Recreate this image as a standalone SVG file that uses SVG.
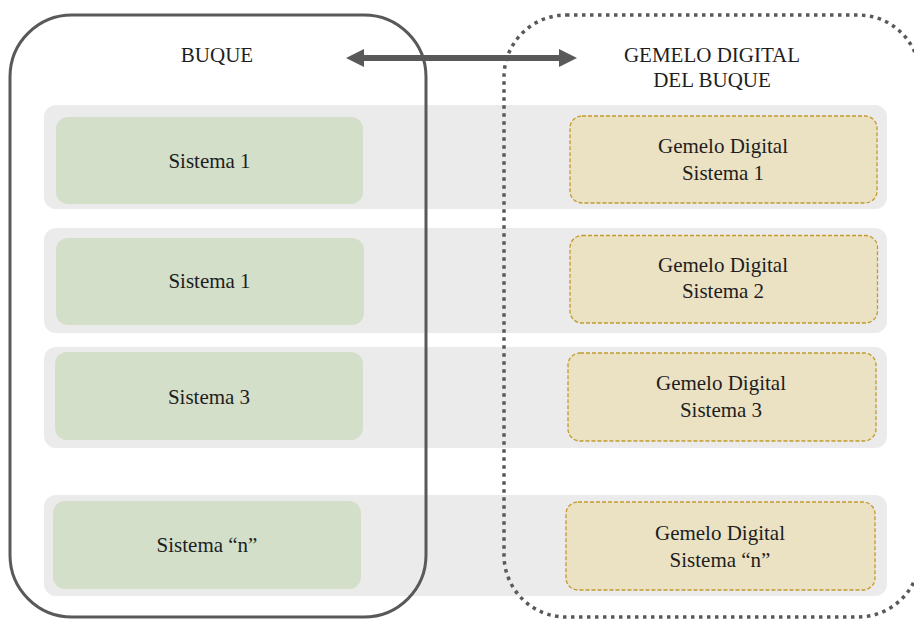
<svg xmlns="http://www.w3.org/2000/svg" width="914" height="619" viewBox="0 0 914 619">
  <defs>
    <style>
      .band { fill: #ebebeb; }
      .sys { fill: #d4dfca; }
      .twin { fill: #ebe2c4; stroke: #c29a2e; stroke-width: 1.3; stroke-dasharray: 4 2; }
      .frame { fill: none; stroke: #595959; stroke-width: 3; }
      .frame-dot { fill: none; stroke: #595959; stroke-width: 3.5; stroke-dasharray: 3.5 4.5; }
      .label { font-size: 21px; fill: #1e1e1e; text-anchor: middle; }
      .link { stroke: #595959; stroke-width: 6; fill: none; }
    </style>
    <marker id="head" viewBox="0 0 18 18" refX="0" refY="9" markerWidth="18" markerHeight="18" markerUnits="userSpaceOnUse" orient="auto-start-reverse">
      <path d="M0,0 L18,9 L0,18 Z" fill="#595959"/>
    </marker>
  </defs>

  <rect width="914" height="619" fill="#ffffff"/>

  <!-- row bands -->
  <g id="rows">
    <rect class="band" x="44" y="105" width="843" height="104" rx="12"/>
    <rect class="band" x="44" y="228" width="843" height="105" rx="12"/>
    <rect class="band" x="44" y="347" width="843" height="101" rx="12"/>
    <rect class="band" x="44" y="495" width="843" height="101" rx="12"/>
  </g>

  <g font-family="'Liberation Serif', 'Tinos', 'DejaVu Serif', serif">
    <!-- physical ship systems -->
    <g id="sistema-1a">
      <rect class="sys" x="56" y="117" width="307" height="87" rx="12"/>
      <text class="label" x="209.5" y="168">Sistema 1</text>
    </g>
    <g id="sistema-1b">
      <rect class="sys" x="56" y="238" width="308" height="87" rx="12"/>
      <text class="label" x="209.5" y="288">Sistema 1</text>
    </g>
    <g id="sistema-3">
      <rect class="sys" x="55" y="352" width="308" height="88" rx="12"/>
      <text class="label" x="209" y="404">Sistema 3</text>
    </g>
    <g id="sistema-n">
      <rect class="sys" x="53" y="501" width="308" height="88" rx="12"/>
      <text class="label" x="207" y="552">Sistema “n”</text>
    </g>

    <!-- digital twin systems -->
    <g id="gemelo-1">
      <rect class="twin" x="570" y="116" width="307" height="87" rx="12"/>
      <text class="label" x="723" y="153">Gemelo Digital</text>
      <text class="label" x="723" y="180">Sistema 1</text>
    </g>
    <g id="gemelo-2">
      <rect class="twin" x="570" y="235.5" width="307.5" height="87.5" rx="12"/>
      <text class="label" x="723" y="272">Gemelo Digital</text>
      <text class="label" x="723" y="298">Sistema 2</text>
    </g>
    <g id="gemelo-3">
      <rect class="twin" x="568" y="353" width="308" height="88" rx="12"/>
      <text class="label" x="721" y="390">Gemelo Digital</text>
      <text class="label" x="721" y="417">Sistema 3</text>
    </g>
    <g id="gemelo-n">
      <rect class="twin" x="566" y="502" width="309" height="88" rx="12"/>
      <text class="label" x="720" y="540">Gemelo Digital</text>
      <text class="label" x="720" y="567">Sistema “n”</text>
    </g>

    <!-- enclosing frames -->
    <g id="buque">
      <rect class="frame" x="10" y="15" width="416" height="602" rx="62"/>
      <text class="label" x="217" y="62">BUQUE</text>
    </g>
    <g id="gemelo-buque">
      <rect class="frame-dot" x="504" y="15" width="416" height="602" rx="62"/>
      <text class="label" x="712" y="62">GEMELO DIGITAL</text>
      <text class="label" x="712" y="87">DEL BUQUE</text>
    </g>
  </g>

  <!-- connectors -->
  <g id="connectors">
    <line class="link" x1="364" y1="58" x2="559" y2="58" marker-start="url(#head)" marker-end="url(#head)"/>
  </g>
</svg>
